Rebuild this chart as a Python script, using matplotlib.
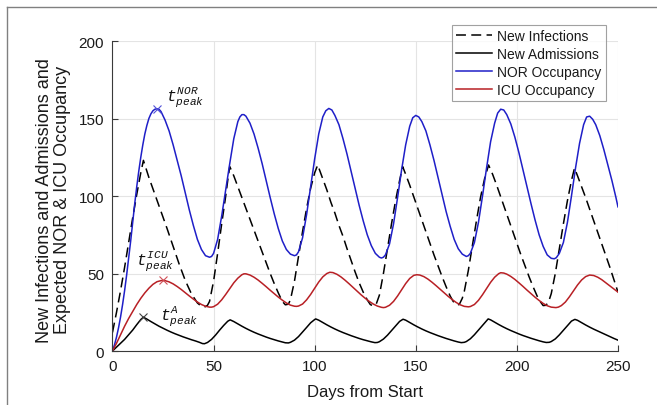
import matplotlib
matplotlib.use("Agg")
import matplotlib.pyplot as plt
from matplotlib.lines import Line2D

plt.rcParams['font.family'] = ['Liberation Sans', 'DejaVu Sans']
plt.rcParams['mathtext.fontset'] = 'custom'
plt.rcParams['mathtext.it'] = 'Liberation Mono:italic'
plt.rcParams['mathtext.rm'] = 'Liberation Mono'

# ---------------- data (day, value) ----------------
new_infections = [
    (0, 12), (2, 25), (4, 39), (6, 54), (8, 70), (10, 86), (12, 101), (14, 115), (15.3, 123),
    (18, 112), (21, 101), (24, 90), (27, 79), (30, 67.5), (33, 56), (36, 45.5), (39, 37), (42, 31),
    (44, 28.8), (45.5, 28.3), (47, 29.5),
    (48, 32), (50, 45), (52, 63), (54, 82), (56, 100), (57, 110), (58, 119),
    (60, 113), (62, 106), (64, 99), (66, 92), (68, 85), (70, 78), (72, 71), (74, 64), (76, 57),
    (78, 50), (80, 43.5), (82, 37.5), (84, 32), (85.5, 29.8), (87, 30.2),
    (88, 33), (90, 45), (92, 61), (94, 77), (96, 92), (98, 105), (100, 115), (101.5, 120),
    (104, 111), (106, 104), (108, 96), (110, 89), (112, 81), (114, 74), (116, 66), (118, 58.5),
    (120, 51), (122, 44), (124, 38), (126, 33), (127.5, 30), (129, 29), (130.5, 30.5),
    (132, 36), (134, 50), (136, 66), (138, 82), (140, 97), (142, 110), (143.5, 119),
    (145, 114), (147, 107), (149, 99.5), (151, 92), (153, 84.5), (155, 77), (157, 69.5), (159, 62),
    (161, 55), (163, 48), (165, 41.5), (167, 35.5), (168.5, 32), (170, 29.7), (171.5, 30),
    (173, 34), (174, 38.5), (176, 52), (178, 68), (180, 84), (182, 99), (184, 111), (186, 120),
    (188, 114), (190, 107), (192, 99.5), (194, 92), (196, 84.5), (198, 77), (200, 69.5), (202, 62),
    (204, 55), (206, 48), (208, 41.5), (210, 35.5), (211.5, 32), (213, 29.3), (214.5, 29.5),
    (216, 33), (217, 37), (219, 50), (221, 66), (223, 82), (225, 97), (227, 110), (228.5, 118),
    (230, 113), (232, 106), (234, 99), (236, 91.5), (238, 84), (240, 76.5), (242, 69), (244, 61.5),
    (246, 54), (248, 46), (250, 38),
]

new_admissions = [
    (0, 0), (2, 2.5), (4, 5), (6, 7.5), (8, 10.5), (10, 13.5), (12, 17), (14, 20.3), (15.3, 21.8),
    (17, 20.6), (19, 19), (21, 17.5), (23, 16), (25, 14.7), (27, 13.4), (29, 12.2), (31, 11.1),
    (33, 10.1), (35, 9.1), (37, 8.2), (39, 7.3), (41, 6.5), (43, 5.6), (44.5, 4.8), (45.5, 4.7),
    (47, 5.5), (49, 7.5), (51, 10.3), (53, 13.5), (55, 16.5), (57, 19.2), (58.2, 20.1),
    (60, 19), (62, 17.5), (64, 16), (66, 14.6), (68, 13.3), (70, 12.1), (72, 11), (74, 10), (76, 9),
    (78, 8.1), (80, 7.3), (82, 6.5), (84, 5.8), (85.5, 5.3), (87, 5.2), (88, 5.6), (90, 7),
    (92, 9.3), (94, 12.2), (96, 15.2), (98, 18.2), (100, 20.3), (100.5, 20.7),
    (102, 19.9), (104, 18.4), (106, 16.9), (108, 15.5), (110, 14.2), (112, 13), (114, 11.9),
    (116, 10.9), (118, 9.9), (120, 9), (122, 8.1), (124, 7.3), (126, 6.6), (128, 5.9), (129.8, 5.4),
    (131, 5.5), (132, 6), (134, 7.7), (136, 10.2), (138, 13.2), (140, 16.3), (142, 19.1), (143.7, 20.5),
    (145, 19.9), (147, 18.4), (149, 16.9), (151, 15.5), (153, 14.2), (155, 13), (157, 11.9),
    (159, 10.9), (161, 9.9), (163, 9), (165, 8.1), (167, 7.3), (169, 6.5), (171, 5.8), (172.5, 5.4),
    (174, 5.6), (175, 6.1), (177, 7.9), (179, 10.5), (181, 13.5), (183, 16.6), (185, 19.5), (185.8, 20.7),
    (187, 20.1), (189, 18.6), (191, 17.1), (193, 15.7), (195, 14.4), (197, 13.2), (199, 12.1),
    (201, 11), (203, 10), (205, 9.1), (207, 8.2), (209, 7.4), (211, 6.6), (213, 5.9), (214.5, 5.5),
    (216, 5.6), (217, 6.1), (219, 7.8), (221, 10.4), (223, 13.4), (225, 16.5), (227, 19.3), (228.7, 20.4),
    (230, 19.8), (232, 18.3), (234, 16.8), (236, 15.4), (238, 14.1), (240, 12.9), (242, 11.7),
    (244, 10.5), (246, 9.3), (248, 8.1), (250, 7),
]

nor_occupancy = [
    (0, 0), (1, 4), (2, 9), (3, 15), (4, 22), (5, 30), (6, 39), (7, 49), (8, 60), (9, 71), (10, 83),
    (11, 95), (12, 106), (13, 116), (14, 125), (15, 133), (16, 140), (17, 145.5), (18, 150), (19, 153),
    (20, 155), (21, 156), (22, 156.3), (23, 156), (24, 154.5), (26, 149), (28, 142), (30, 133),
    (32, 123), (34, 113), (36, 102), (38, 91), (40, 81), (42, 72), (44, 65.5), (46, 61.5), (48, 60.5),
    (49, 61), (50, 63), (52, 72), (54, 87), (56, 104), (58, 121), (60, 137), (62, 148), (63, 151),
    (64, 152.5), (65, 152.5), (66, 151.5), (68, 147), (70, 140), (72, 131), (74, 121), (76, 110),
    (78, 99), (80, 88.5), (82, 79), (84, 71), (86, 65.5), (88, 62.5), (90, 61.5), (91, 62), (92, 64),
    (94, 73), (96, 88), (98, 106), (100, 124), (102, 140), (104, 151), (105.5, 155), (107, 156.5),
    (108.5, 155.5), (110, 152), (112, 146), (114, 137), (116, 127), (118, 116), (120, 105), (122, 94),
    (124, 84), (126, 75), (128, 68), (130, 63), (132, 60.5), (133, 60), (134, 60.5), (135, 62),
    (137, 69), (139, 82), (141, 99), (143, 117), (145, 133), (147, 145), (148.5, 150.5), (150, 152),
    (151.5, 151), (153, 148), (155, 142), (157, 133), (159, 123), (161, 112), (163, 101), (165, 90),
    (167, 80.5), (169, 72), (171, 66), (173, 62.5), (175, 61), (176, 61.5), (177, 63), (179, 70),
    (181, 83), (183, 100), (185, 118), (187, 135), (189, 147), (190.5, 153.5), (192, 156),
    (193.5, 155.5), (195, 152.5), (197, 146.5), (199, 138), (201, 128), (203, 117), (205, 106),
    (207, 95), (209, 84.5), (211, 75), (213, 67.5), (215, 62), (217, 59.8), (218.5, 59.5),
    (219.5, 60.2), (221, 63), (223, 70), (225, 83), (227, 100), (229, 118), (231, 134), (233, 146),
    (234.5, 151), (236, 151.5), (237.5, 149.5), (239, 146), (241, 139), (243, 130), (245, 120),
    (247, 110), (249, 99), (250, 93),
]

icu_occupancy = [
    (0, 0), (2, 5), (4, 10.5), (6, 16), (8, 21), (10, 25.5), (12, 30), (14, 34), (16, 37.5),
    (18, 40.5), (20, 43), (22, 44.7), (24, 45.4), (25, 45.5), (26, 45.4), (28, 44.6), (30, 43.3),
    (32, 41.6), (34, 39.7), (36, 37.6), (38, 35.5), (40, 33.5), (42, 31.6), (44, 30), (46, 28.9),
    (48, 28.3), (49, 28.3), (50, 28.6), (52, 30.2), (54, 33), (56, 36.5), (58, 40.3), (60, 44),
    (62, 47), (64, 49.2), (65, 49.8), (66, 49.8), (68, 49), (70, 47.6), (72, 45.8), (74, 43.7),
    (76, 41.5), (78, 39.2), (80, 37), (82, 34.8), (84, 32.8), (86, 31), (88, 29.6), (90, 28.9),
    (91, 28.8), (92, 29), (94, 30.3), (96, 33), (98, 36.5), (100, 40.5), (102, 44.5), (104, 47.8),
    (106, 50), (107.5, 50.8), (109, 50.6), (111, 49.5), (113, 47.8), (115, 45.7), (117, 43.4),
    (119, 41), (121, 38.6), (123, 36.2), (125, 34), (127, 32), (129, 30.3), (131, 29), (133, 28.2),
    (134, 28), (135, 28.2), (137, 29.5), (139, 32), (141, 35.5), (143, 39.5), (145, 43.5),
    (147, 46.8), (149, 48.8), (150.5, 49.2), (152, 49), (154, 48), (156, 46.4), (158, 44.4),
    (160, 42.2), (162, 39.9), (164, 37.6), (166, 35.3), (168, 33.2), (170, 31.3), (172, 29.8),
    (174, 28.8), (176, 28.5), (177, 28.7), (179, 30), (181, 32.7), (183, 36.3), (185, 40.3),
    (187, 44.3), (189, 47.6), (191, 49.9), (192, 50.5), (193.5, 50.3), (195, 49.6), (197, 48.1),
    (199, 46.2), (201, 44), (203, 41.7), (205, 39.3), (207, 37), (209, 34.7), (211, 32.6),
    (213, 30.7), (215, 29.2), (217, 28.3), (219.3, 28), (220.5, 28.3), (222, 29.3), (224, 31.6),
    (226, 35), (228, 38.8), (230, 42.6), (232, 45.8), (234, 48), (236, 49), (238, 48.7), (240, 47.6),
    (242, 46), (244, 44), (246, 42), (248, 40), (250, 38),
]

series_labels = ['New Infections', 'New Admissions', 'NOR Occupancy', 'ICU Occupancy']
peak_nor = (22, 156.3)
peak_icu = (25, 45.5)
peak_adm = (15.3, 21.8)
x_ticks = [0, 50, 100, 150, 200, 250]
y_ticks = [0, 50, 100, 150, 200]

# ---------------- figure ----------------
fig = plt.figure(figsize=(6.57, 4.06), dpi=100)
ax = fig.add_axes([0.1712, 0.133, 0.7694, 0.7635])

BLUE = '#1f1fc8'
RED = '#b82025'

def xy(pairs):
    return [p[0] for p in pairs], [p[1] for p in pairs]

lw = 1.1
x, y = xy(new_infections)
ax.plot(x, y, color='black', lw=lw, dashes=(6.5, 3.5), label=series_labels[0])
x, y = xy(new_admissions)
ax.plot(x, y, color='black', lw=lw, label=series_labels[1])
x, y = xy(nor_occupancy)
ax.plot(x, y, color=BLUE, lw=lw, label=series_labels[2])
x, y = xy(icu_occupancy)
ax.plot(x, y, color=RED, lw=lw, label=series_labels[3])

ax.plot([peak_nor[0]], [peak_nor[1]], marker='x', color='#5050d8', ms=6, mew=0.8, ls='none')
ax.plot([peak_icu[0]], [peak_icu[1]], marker='x', color='#d05058', ms=6, mew=0.8, ls='none')
ax.plot([peak_adm[0]], [peak_adm[1]], marker='x', color='#404040', ms=6, mew=0.8, ls='none')

ax.text(26.3, 164, r'$t^{NOR}_{peak}$', fontsize=11.5, ha='left', va='center', color='#111111')
ax.text(11.6, 58.5, r'$t^{ICU}_{peak}$', fontsize=11.5, ha='left', va='center', color='#111111')
ax.text(23.3, 23, r'$t^{A}_{peak}$', fontsize=11.5, ha='left', va='center', color='#111111')

ax.set_xlim(0, 250)
ax.set_ylim(0, 200)
ax.set_xticks(x_ticks)
ax.set_yticks(y_ticks)
ax.grid(True, color='#e4e4e4', lw=0.8)
ax.set_axisbelow(True)
for s in ['top', 'right']:
    ax.spines[s].set_visible(False)
for s in ['left', 'bottom']:
    ax.spines[s].set_color('#3a3a3a')
    ax.spines[s].set_linewidth(0.8)
ax.tick_params(direction='in', length=4, width=0.8, color='#3a3a3a',
               labelsize=11, labelcolor='#1a1a1a', pad=6)

ax.set_xlabel('Days from Start', fontsize=12, color='#1a1a1a', labelpad=8)
ax.set_ylabel('New Infections and Admissions and\nExpected NOR & ICU Occupancy',
              fontsize=13, color='#1a1a1a', linespacing=1.05)
ax.yaxis.set_label_coords(-0.082, 0.49)

leg = ax.legend(loc='upper left', bbox_to_anchor=(452 / 657, 1 - 26 / 406),
                bbox_transform=fig.transFigure, fontsize=10, frameon=True,
                fancybox=False, edgecolor='#8a8a8a', borderpad=0.3,
                labelspacing=0.28, handlelength=2.6, handletextpad=0.35,
                borderaxespad=0)
leg.get_frame().set_linewidth(0.8)
for t in leg.get_texts():
    t.set_color('#1a1a1a')

# outer frame lines (top and left edge of the original figure panel)
fig.add_artist(Line2D([7 / 657, 7 / 657], [0, 1 - 8 / 406], transform=fig.transFigure,
                      color='#808080', lw=1.0))
fig.add_artist(Line2D([7 / 657, 1], [1 - 8 / 406, 1 - 8 / 406], transform=fig.transFigure,
                      color='#808080', lw=1.0))

fig.savefig('out.png', dpi=100)
